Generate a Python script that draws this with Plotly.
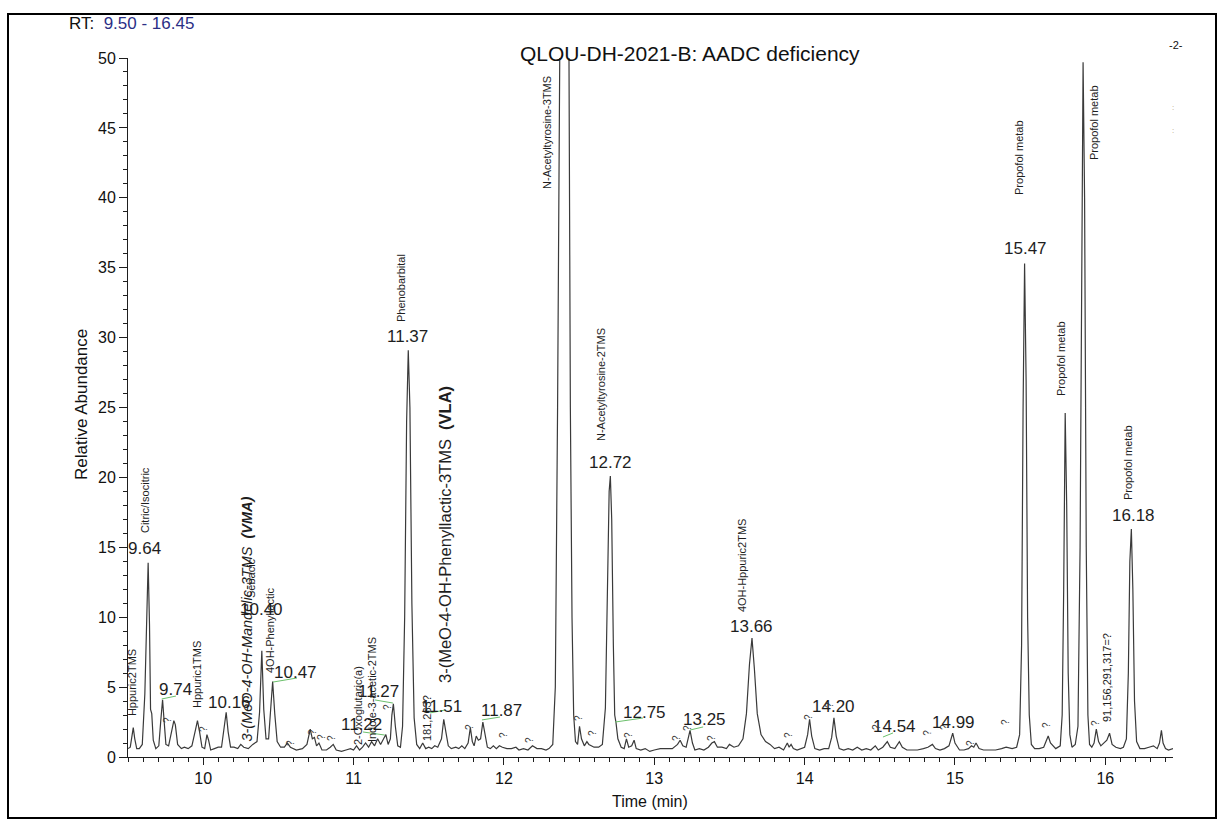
import plotly.graph_objects as go

# ---------------- data ----------------
rt_min = [
    9.500, 9.515, 9.525, 9.535, 9.545, 9.558, 9.575, 9.595, 9.612, 9.624, 9.634, 9.643, 9.650, 9.658, 9.668,
    9.685, 9.705, 9.718, 9.730, 9.740, 9.752, 9.770, 9.790, 9.805, 9.815, 9.830, 9.855, 9.875, 9.900, 9.925,
    9.948, 9.962, 9.976, 9.992, 10.010, 10.025, 10.036, 10.050, 10.075, 10.100, 10.122, 10.140, 10.153, 10.166,
    10.182, 10.205, 10.230, 10.250, 10.270, 10.300, 10.330, 10.358, 10.375, 10.390, 10.403, 10.418, 10.435,
    10.450, 10.462, 10.476, 10.492, 10.515, 10.540, 10.560, 10.580, 10.620, 10.660, 10.690, 10.712, 10.726,
    10.740, 10.754, 10.770, 10.790, 10.820, 10.845, 10.865, 10.885, 10.920, 10.950, 10.980, 11.000, 11.020,
    11.040, 11.060, 11.080, 11.100, 11.120, 11.140, 11.160, 11.180, 11.200, 11.215, 11.230, 11.245, 11.255,
    11.265, 11.278, 11.294, 11.312, 11.326, 11.340, 11.353, 11.364, 11.375, 11.388, 11.403, 11.420, 11.440,
    11.460, 11.480, 11.500, 11.520, 11.540, 11.560, 11.585, 11.600, 11.614, 11.630, 11.650, 11.680, 11.700,
    11.720, 11.740, 11.762, 11.777, 11.790, 11.802, 11.816, 11.830, 11.845, 11.860, 11.874, 11.890, 11.910,
    11.930, 11.950, 11.970, 11.990, 12.020, 12.050, 12.080, 12.100, 12.130, 12.160, 12.190, 12.220, 12.250,
    12.280, 12.300, 12.325, 12.342, 12.357, 12.370, 12.376, 12.430, 12.434, 12.442, 12.453, 12.464, 12.476,
    12.490, 12.503, 12.516, 12.535, 12.552, 12.565, 12.580, 12.600, 12.630, 12.655, 12.675, 12.690, 12.700,
    12.708, 12.717, 12.728, 12.737, 12.745, 12.758, 12.780, 12.800, 12.815, 12.830, 12.850, 12.866, 12.880,
    12.910, 12.940, 12.970, 13.000, 13.040, 13.080, 13.120, 13.155, 13.172, 13.190, 13.212, 13.238, 13.254,
    13.270, 13.300, 13.330, 13.360, 13.383, 13.400, 13.420, 13.450, 13.480, 13.500, 13.530, 13.560, 13.590,
    13.613, 13.633, 13.650, 13.666, 13.685, 13.710, 13.740, 13.770, 13.800, 13.830, 13.860, 13.885, 13.897,
    13.910, 13.925, 13.950, 13.980, 14.000, 14.020, 14.033, 14.047, 14.068, 14.100, 14.130, 14.160, 14.180,
    14.195, 14.210, 14.230, 14.260, 14.290, 14.320, 14.350, 14.380, 14.410, 14.440, 14.470, 14.490, 14.520,
    14.550, 14.570, 14.600, 14.630, 14.650, 14.680, 14.710, 14.750, 14.790, 14.820, 14.850, 14.870, 14.900,
    14.930, 14.960, 14.985, 15.000, 15.030, 15.060, 15.090, 15.110, 15.125, 15.140, 15.160, 15.190, 15.230,
    15.270, 15.310, 15.340, 15.380, 15.410, 15.430, 15.443, 15.453, 15.463, 15.473, 15.483, 15.494, 15.508,
    15.530, 15.560, 15.590, 15.605, 15.620, 15.635, 15.650, 15.670, 15.700, 15.713, 15.723, 15.733, 15.743,
    15.753, 15.764, 15.778, 15.800, 15.818, 15.832, 15.843, 15.852, 15.862, 15.873, 15.884, 15.895, 15.910,
    15.925, 15.940, 15.955, 15.970, 15.990, 16.010, 16.028, 16.045, 16.070, 16.100, 16.120, 16.140, 16.153,
    16.163, 16.173, 16.183, 16.194, 16.208, 16.230, 16.260, 16.290, 16.320, 16.345, 16.360, 16.373, 16.384,
    16.400, 16.420, 16.450,
]
rel_abundance = [
    0.6, 0.7, 1.4, 2.1, 1.3, 0.6, 0.6, 0.9, 4.5, 10.5, 13.9, 9.5, 3.4, 3.1, 1.2,
    0.6, 0.8, 2.6, 4.1, 2.6, 0.9, 0.8, 1.8, 2.6, 2.3, 0.9, 0.6, 0.7, 0.6, 0.8,
    1.9, 2.6, 1.8, 0.7, 0.6, 1.6, 1.2, 0.5, 0.6, 0.7, 0.7, 2.1, 3.2, 1.8,
    0.7, 0.7, 0.6, 0.9, 0.7, 0.6, 0.9, 1.1, 3.2, 7.6, 3.4, 1.3, 1.3,
    3.6, 5.4, 3.1, 1.1, 0.7, 0.7, 1.0, 0.7, 0.5, 0.6, 0.9, 2.0, 1.3,
    1.4, 0.8, 1.0, 0.5, 0.5, 0.7, 0.9, 0.5, 0.4, 0.5, 0.6, 0.5, 0.8,
    0.5, 0.7, 1.0, 0.7, 1.1, 0.8, 1.3, 0.9, 1.3, 1.6, 0.9, 1.3, 3.0,
    3.8, 2.2, 0.8, 0.7, 2.2, 10.0, 24.0, 29.1, 25.0, 11.0, 2.8, 0.9, 0.6,
    1.0, 0.6, 0.7, 0.6, 0.8, 0.7, 1.3, 2.7, 1.8, 0.8, 0.6, 0.7, 0.6,
    0.8, 0.6, 1.0, 2.1, 1.1, 0.8, 1.5, 1.2, 1.3, 2.5, 1.5, 0.7, 0.6,
    0.8, 0.6, 0.8, 0.7, 0.6, 0.6, 0.7, 0.5, 0.6, 0.5, 0.8, 0.6, 0.6,
    0.5, 0.6, 0.9, 5.0, 25.0, 45.0, 58.0, 58.0, 39.5, 25.0, 10.0, 3.0, 1.1,
    0.9, 2.2, 1.3, 0.8, 1.1, 0.9, 0.8, 0.7, 0.7, 0.9, 3.5, 13.0, 19.0,
    20.1, 17.0, 8.0, 3.0, 2.5, 1.3, 0.7, 0.6, 1.3, 0.7, 0.8, 1.2, 0.6,
    0.5, 0.6, 0.4, 0.5, 0.6, 0.6, 0.6, 0.9, 1.2, 0.8, 0.7, 1.9, 1.0,
    0.5, 0.6, 0.5, 0.7, 1.0, 1.1, 0.7, 0.7, 0.6, 0.9, 0.7, 0.8, 1.3,
    3.1, 6.6, 8.5, 6.3, 3.1, 1.6, 1.1, 0.9, 0.6, 0.7, 0.5, 1.0, 0.7,
    0.9, 0.6, 0.5, 0.6, 0.7, 1.6, 2.7, 1.5, 0.6, 0.5, 0.6, 0.6, 1.4,
    2.8, 1.5, 0.6, 0.5, 0.6, 0.5, 0.7, 0.5, 0.6, 0.5, 0.8, 0.5, 0.7,
    1.1, 0.7, 0.6, 1.1, 0.7, 0.5, 0.5, 0.5, 0.6, 0.7, 0.9, 0.6, 0.5,
    0.6, 0.8, 1.7, 1.0, 0.5, 0.5, 0.6, 0.8, 0.7, 1.0, 0.6, 0.5, 0.5,
    0.5, 0.6, 0.7, 0.6, 0.7, 1.6, 8.0, 25.0, 35.3, 27.0, 10.0, 3.0, 0.9,
    0.6, 0.6, 0.7, 1.1, 1.5, 1.0, 0.8, 0.6, 0.8, 3.0, 12.0, 24.6, 18.0,
    6.0, 1.6, 0.7, 0.9, 2.2, 15.0, 40.0, 49.7, 40.0, 15.0, 3.0, 0.9, 0.7,
    1.0, 2.0, 1.1, 0.8, 1.0, 1.2, 1.7, 0.9, 0.7, 0.6, 0.7, 1.3, 6.0,
    14.0, 16.3, 12.0, 4.0, 1.1, 0.6, 0.6, 0.7, 0.8, 0.6, 1.0, 1.9, 1.0,
    0.6, 0.5, 0.6,
]

# retention-time labels (text) and where they sit (time, abundance)
rt_labels = ["9.64", "9.74", "10.16", "10.40", "10.47", "11.22", "11.27", "11.37", "11.51", "11.87",
             "12.72", "12.75", "13.25", "13.66", "14.20", "14.54", "14.99", "15.47", "15.86", "16.18"]
rt_label_pos = [(9.613, 14.88), (9.819, 4.86), (10.172, 3.93), (10.385, 10.52), (10.611, 6.08),
                (11.05, 2.29), (11.169, 4.65), (11.356, 30.11), (11.588, 3.58), (11.981, 3.36),
                (12.706, 21.10), (12.932, 3.15), (13.337, 2.65), (13.650, 9.30), (14.195, 3.58),
                (14.601, 2.15), (14.987, 2.50), (15.466, 36.34), (15.845, 52.86), (16.184, 17.31)]

# compound names (vertical text)
compound_names = ["Hppuric2TMS", "Citric/Isocitric", "Hppuric1TMS", "Sebacic", "4OH-Phenyllactic",
                  "2-Oxoglutaric(a)", "Indole-3-acetic-2TMS", "181,263?", "Phenobarbital",
                  "N-Acetyltyrosine-3TMS", "N-Acetyltyrosine-2TMS", "4OH-Hppuric2TMS",
                  "Propofol metab", "Propofol metab", "Propofol metab", "Propofol metab",
                  "91,156,291,317=?"]
compound_pos = [(9.527, 5.29), (9.613, 18.38), (9.959, 5.87), (10.318, 12.8), (10.444, 9.08),
                (11.03, 3.65), (11.123, 4.79), (11.489, 2.79), (11.316, 33.55),
                (12.287, 44.64), (12.646, 26.61), (13.584, 13.73),
                (15.426, 42.85), (15.705, 28.54), (15.925, 45.35), (16.151, 21.03),
                (16.011, 5.72)]

vma_label = "3-(MeO-4-OH-Mandelic-3TMS"
vma_tag = "(VMA)"
vma_pos = (10.291, 9.9)
vla_label = "3-(MeO-4-OH-Phenyllactic-3TMS"
vla_tag = "(VLA)"
vla_pos = (11.608, 15.95)

# unidentified peaks marked "?"
unknown_pos = [(9.766, 2.65), (9.999, 2.0), (10.577, 1.0), (10.73, 1.79), (10.784, 1.43), (10.857, 1.36),
               (11.229, 3.58), (11.775, 2.15), (11.994, 1.57), (12.174, 1.22), (12.493, 2.79),
               (12.593, 1.72), (12.825, 1.57), (13.151, 1.36), (13.218, 2.07), (13.384, 1.36),
               (13.889, 1.57), (14.022, 2.86), (14.169, 3.72), (14.481, 2.15), (14.82, 1.72),
               (14.934, 2.15), (15.10, 1.0), (15.333, 2.5), (15.612, 2.29), (15.931, 2.43)]

# short green label leaders (t0, y0, t1, y1)
green_leaders = [(9.724, 4.15, 9.819, 4.36), (10.464, 5.36, 10.624, 5.65), (11.063, 1.79, 11.208, 1.57),
                 (11.143, 4.08, 11.262, 3.86), (11.509, 3.15, 11.608, 3.36), (11.854, 2.65, 11.974, 2.86),
                 (12.739, 2.5, 12.925, 2.79), (13.238, 1.93, 13.325, 2.15), (14.521, 1.43, 14.588, 1.72)]

title_text = "QLOU-DH-2021-B: AADC deficiency"
rt_range_text = "9.50 - 16.45"
x_title = "Time (min)"
y_title = "Relative Abundance"

# ---------------- layout helpers ----------------
W, H = 1218, 832
ML, MR, MT, MB = 128, 45, 58, 75
PW, PH = W - ML - MR, H - MT - MB


def pxx(xp):
    return (xp - ML) / PW


def pxy(yp):
    return (H - MB - yp) / PH


FONT = "Liberation Sans, Arial, sans-serif"
INK = "#1e1e1e"

fig = go.Figure()
fig.add_trace(go.Scatter(x=rt_min, y=rel_abundance, mode="lines",
                         line=dict(color="#3a3a3a", width=1.2), hoverinfo="skip"))

ann = []
for txt, (t, a) in zip(rt_labels, rt_label_pos):
    ann.append(dict(x=t, y=a, xref="x", yref="y", text=txt, showarrow=False,
                    font=dict(family=FONT, size=17, color=INK), xanchor="center", yanchor="middle"))
for txt, (t, a) in zip(compound_names, compound_pos):
    ann.append(dict(x=t, y=a, xref="x", yref="y", text=txt, showarrow=False, textangle=-90,
                    font=dict(family=FONT, size=11, color=INK), xanchor="center", yanchor="middle"))
ann.append(dict(x=vma_pos[0], y=vma_pos[1], xref="x", yref="y",
                text="<i>" + vma_label + "\u00a0\u00a0<b>" + vma_tag + "</b></i>",
                showarrow=False, textangle=-90, font=dict(family=FONT, size=14.5, color=INK),
                xanchor="center", yanchor="middle"))
ann.append(dict(x=vla_pos[0], y=vla_pos[1], xref="x", yref="y",
                text=vla_label + "\u00a0\u00a0<b>" + vla_tag + "</b>",
                showarrow=False, textangle=-90, font=dict(family=FONT, size=16.5, color=INK),
                xanchor="center", yanchor="middle"))
for (t, a) in unknown_pos:
    ann.append(dict(x=t, y=a, xref="x", yref="y", text="?", showarrow=False, textangle=-90,
                    font=dict(family=FONT, size=10, color="#333"), xanchor="center", yanchor="middle"))

# page texts
ann.append(dict(x=pxx(690), y=pxy(53), xref="paper", yref="paper", text=title_text, showarrow=False,
                font=dict(family=FONT, size=21, color="#111"), xanchor="center", yanchor="middle"))
ann.append(dict(x=pxx(67), y=pxy(24), xref="paper", yref="paper",
                text="RT:  <span style='color:#2b2f86'>" + rt_range_text + "</span>", showarrow=False,
                font=dict(family=FONT, size=17, color="#111"), xanchor="left", yanchor="middle"))
ann.append(dict(x=pxx(1176), y=pxy(45), xref="paper", yref="paper", text="-2-", showarrow=False,
                font=dict(family=FONT, size=11, color="#111"), xanchor="center", yanchor="middle"))
ann.append(dict(x=pxx(1173), y=pxy(108), xref="paper", yref="paper", text=":", showarrow=False,
                font=dict(family=FONT, size=8, color="#b39a78"), xanchor="center", yanchor="middle"))
ann.append(dict(x=pxx(1173), y=pxy(130), xref="paper", yref="paper", text=":", showarrow=False,
                font=dict(family=FONT, size=8, color="#b39a78"), xanchor="center", yanchor="middle"))
ann.append(dict(x=pxx(650), y=pxy(801), xref="paper", yref="paper", text=x_title, showarrow=False,
                font=dict(family=FONT, size=16, color="#111"), xanchor="center", yanchor="middle"))
ann.append(dict(x=pxx(81), y=pxy(405), xref="paper", yref="paper", text=y_title, showarrow=False,
                textangle=-90, font=dict(family=FONT, size=17, color="#111"),
                xanchor="center", yanchor="middle"))

shapes = []
for (t0, a0, t1, a1) in green_leaders:
    shapes.append(dict(type="line", xref="x", yref="y", x0=t0, y0=a0, x1=t1, y1=a1,
                       line=dict(color="#6cc06c", width=1)))
shapes.append(dict(type="rect", xref="paper", yref="paper", x0=pxx(8), x1=pxx(1216), y0=pxy(818), y1=pxy(14),
                   line=dict(color="#000", width=2), fillcolor="rgba(0,0,0,0)", layer="above"))

axis_common = dict(showline=True, linecolor=INK, linewidth=1, ticks="outside", tickcolor=INK,
                   showgrid=False, zeroline=False, tickfont=dict(family=FONT, size=16, color="#111"))

fig.update_layout(
    width=W, height=H, margin=dict(l=ML, r=MR, t=MT, b=MB, pad=0),
    paper_bgcolor="white", plot_bgcolor="white", showlegend=False,
    xaxis=dict(range=[9.5, 16.45], dtick=1, tick0=0, ticklen=7,
               minor=dict(dtick=0.1, ticklen=4, ticks="outside", tickcolor=INK, showgrid=False),
               **axis_common),
    yaxis=dict(range=[0, 50], dtick=5, tick0=0, ticklen=8,
               minor=dict(dtick=1, ticklen=4, ticks="outside", tickcolor=INK, showgrid=False),
               **axis_common),
    annotations=ann, shapes=shapes,
)

fig.write_html("out.html")
